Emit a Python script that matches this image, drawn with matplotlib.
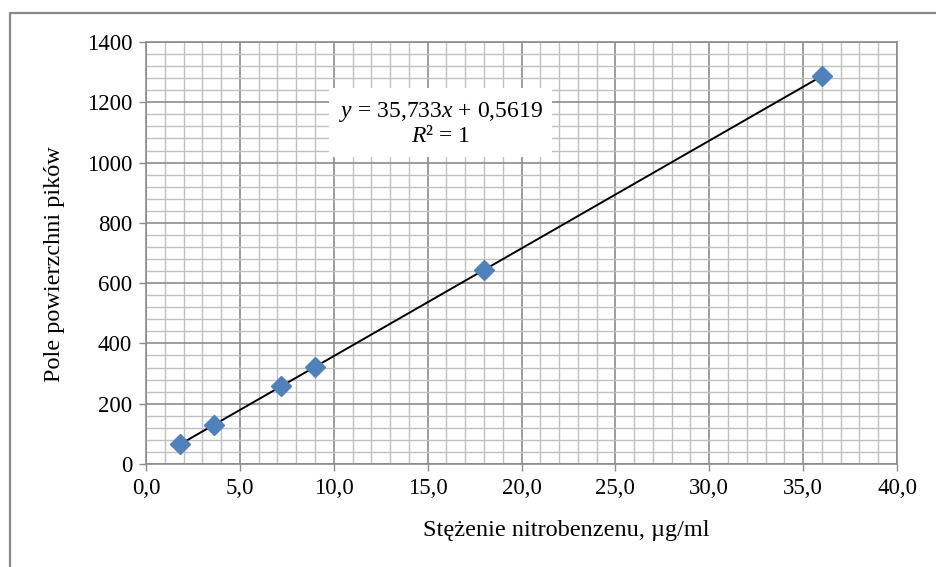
import numpy as np
import matplotlib
matplotlib.use("Agg")
import matplotlib.pyplot as plt
from matplotlib.ticker import MultipleLocator, FuncFormatter
from matplotlib.lines import Line2D

# dane kalibracyjne
stezenie = [1.8, 3.6, 7.2, 9.0, 18.0, 36.0]
pole = [65, 129, 258, 322, 644, 1287]
a = 35.733
b = 0.5619

plt.rcParams['font.family'] = ['Liberation Serif', 'DejaVu Serif']
plt.rcParams['mathtext.fontset'] = 'custom'
plt.rcParams['mathtext.rm'] = 'Liberation Serif'
plt.rcParams['mathtext.it'] = 'Liberation Serif:italic'

fig = plt.figure(figsize=(9.36, 5.67), dpi=100)
ax = fig.add_axes([146 / 936, 1 - 464 / 567, 751 / 936, 422 / 567])

# ramka wykresu (widoczna tylko gorna i lewa krawedz)
fig.lines.append(Line2D([9.5 / 936, 9.5 / 936, 1.0], [0.0, 1 - 12.5 / 567, 1 - 12.5 / 567],
                        transform=fig.transFigure, color='#888888', linewidth=1.6))

# linia trendu
xt = np.array([stezenie[0], stezenie[-1]])
ax.plot(xt, a * xt + b, color='black', linewidth=1.4, zorder=3)
ax.plot(stezenie, pole, linestyle='none', marker='D', markersize=10.5,
        color='#4F81BD', markeredgecolor='#4F81BD', zorder=4)

ax.set_xlim(0, 40)
ax.set_ylim(0, 1400)
ax.xaxis.set_major_locator(MultipleLocator(5))
ax.xaxis.set_minor_locator(MultipleLocator(1))
ax.yaxis.set_major_locator(MultipleLocator(200))
ax.yaxis.set_minor_locator(MultipleLocator(40))
ax.xaxis.set_major_formatter(FuncFormatter(lambda v, p: f"{v:.1f}".replace('.', ',')))

ax.grid(which='major', color='#8c8c8c', linewidth=1.2)
ax.grid(which='minor', color='#c0c0c0', linewidth=1.0)
ax.set_axisbelow(True)
ax.tick_params(which='major', direction='out', length=5, width=1, color='#8c8c8c',
               labelsize=16.5, pad=5)
ax.tick_params(which='minor', length=0)
for s in ax.spines.values():
    s.set_color('#8c8c8c')
    s.set_linewidth(1.2)

ax.set_xlabel("Stężenie nitrobenzenu, µg/ml", fontsize=17.5)
ax.set_ylabel("Pole powierzchni pików", fontsize=17.5)
ax.xaxis.set_label_coords(0.559, -0.133)
ax.yaxis.set_label_coords(-0.108, 0.474)

ax.text(15.7, 1130, "$y$ = 35,733$x$ + 0,5619\n$R$² = 1", fontsize=17, ha='center',
        va='center', linespacing=1.15, zorder=5,
        bbox=dict(boxstyle='square,pad=0.4', facecolor='white', edgecolor='none'))

fig.savefig("out.png", dpi=100)
